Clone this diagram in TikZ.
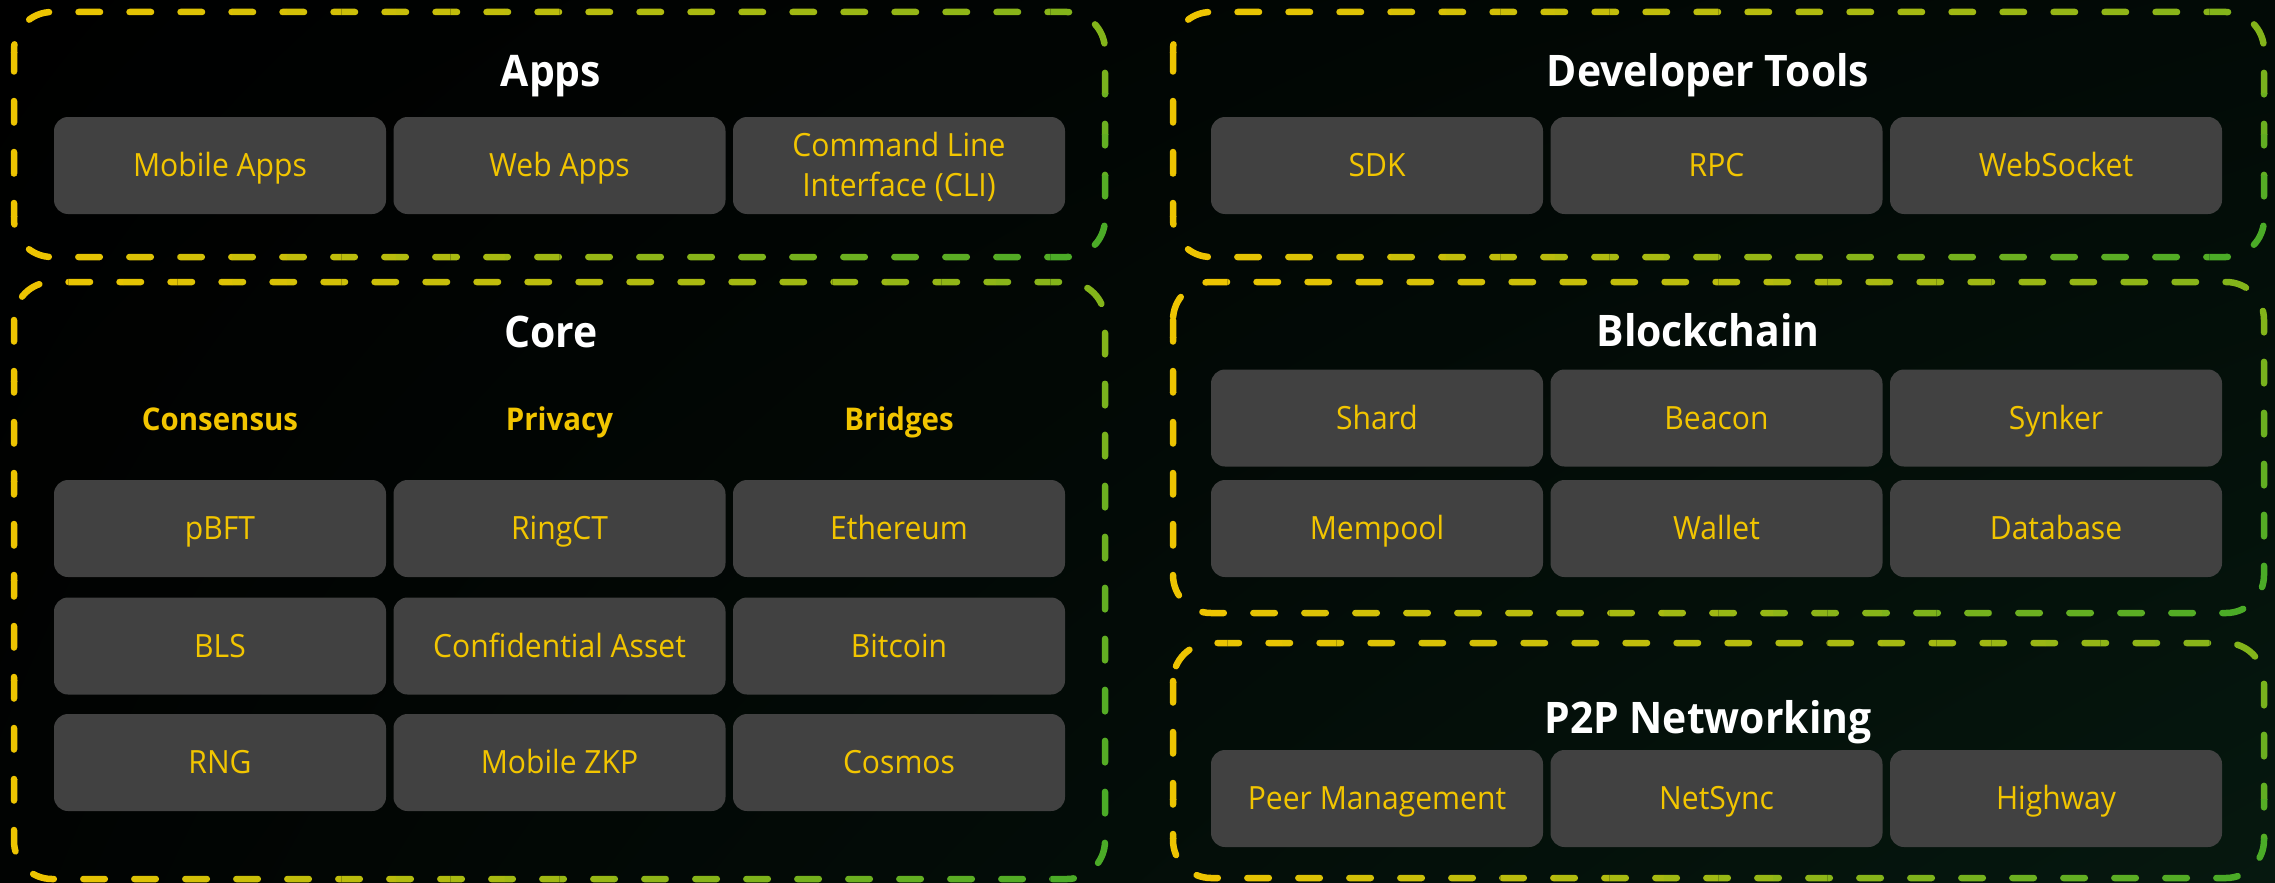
\documentclass[tikz,border=0pt]{standalone}
\usepackage{fontspec}
\setmainfont{Open Sans}[FakeStretch=0.94]
\usetikzlibrary{shadings}
\definecolor{dashY}{HTML}{F1C500}
\definecolor{dashG}{HTML}{40A92A}
\definecolor{lbltext}{HTML}{F2C500}
\definecolor{cellfill}{HTML}{414141}
\definecolor{bgTR}{HTML}{020A06}
\definecolor{bgBL}{HTML}{010302}
\definecolor{bgBR}{HTML}{06180F}

\tikzset{
  cell/.style={fill=cellfill, rounded corners=14pt, minimum width=332pt,
    minimum height=97pt, inner sep=0pt, text=lbltext,
    font=\fontsize{32}{40}\selectfont, text height=22.9pt, text depth=0pt,
    align=center},
  grouptitle/.style={text=white, font=\bfseries\fontsize{43.5}{50}\selectfont,
    text height=31pt, text depth=0pt, inner sep=0pt},
  subhead/.style={text=lbltext, font=\bfseries\fontsize{31.3}{36}\selectfont,
    text height=22.3pt, text depth=0pt, inner sep=0pt},
  frame/.style={line width=6.5pt, line cap=round,
    dash pattern=on 21.5pt off 29.5pt, rounded corners=38pt},
}

% dashed group frame whose colour runs from yellow (left) to green (right),
% greener towards the bottom; drawn cell by cell under clips
\newcommand\dashframe[4]{%
  \pgfmathsetmacro\sx{(#3-#1)/20}
  \pgfmathsetmacro\sy{(#4-#2)/6}
  \foreach \i in {0,...,19}{
    \foreach \j in {0,...,5}{
      \pgfmathsetmacro\xa{#1+\sx*\i}
      \pgfmathsetmacro\xb{#1+\sx*(\i+1)}
      \pgfmathsetmacro\ya{#2+\sy*\j}
      \pgfmathsetmacro\yb{#2+\sy*(\j+1)}
      \ifnum\i=0 \pgfmathsetmacro\xa{#1-30}\fi
      \ifnum\i=19 \pgfmathsetmacro\xb{#3+30}\fi
      \ifnum\j=0 \pgfmathsetmacro\ya{#2-30}\fi
      \ifnum\j=5 \pgfmathsetmacro\yb{#4+30}\fi
      \pgfmathtruncatemacro\mix{round(100*((\i+0.5)/20)*(0.6+0.4*(\j+0.5)/6))}
      \begin{scope}
        \clip (\xa,\ya) rectangle (\xb,\yb);
        \draw[frame, draw=dashG!\mix!dashY] (#1,#2) rectangle (#3,#4);
      \end{scope}
    }
  }
}

\begin{document}
\begin{tikzpicture}[x=1pt, y=-1pt]
\useasboundingbox (0,0) rectangle (2275,883);
\shade[upper left=black, upper right=bgTR, lower left=bgBL, lower right=bgBR]
  (0,0) rectangle (2275,883);

% group frames
\dashframe{14}{12}{1105}{257}
\dashframe{14}{282}{1105}{879}
\dashframe{1173}{12}{2264}{257}
\dashframe{1173}{282}{2264}{613}
\dashframe{1173}{643}{2264}{878}

% Apps
\node[grouptitle] (appsT) at (551,70.5) {Apps};
\node[cell] (mobile) at (220,165.5) {Mobile Apps};
\node[cell] (web) at (559.5,165.5) {Web Apps};
\node[cell, text height=62.9pt] (cli) at (899,165.5) {Command Line\\Interface (CLI)};

% Core
\node[grouptitle] (coreT) at (551,332) {Core};
\node[subhead] (consT) at (220,419.5) {Consensus};
\node[subhead] (privT) at (559.5,419.5) {Privacy};
\node[subhead] (bridT) at (899,419.5) {Bridges};
\node[cell] (pbft) at (220,528.5) {pBFT};
\node[cell] (ringct) at (559.5,528.5) {RingCT};
\node[cell] (eth) at (899,528.5) {Ethereum};
\node[cell] (bls) at (220,646) {BLS};
\node[cell] (conf) at (559.5,646) {Confidential Asset};
\node[cell] (btc) at (899,646) {Bitcoin};
\node[cell] (rng) at (220,762.5) {RNG};
\node[cell] (zkp) at (559.5,762.5) {Mobile ZKP};
\node[cell] (cosmos) at (899,762.5) {Cosmos};

% Developer Tools
\node[grouptitle] (devT) at (1708,70.5) {Developer Tools};
\node[cell] (sdk) at (1377,165.5) {SDK};
\node[cell] (rpc) at (1716.5,165.5) {RPC};
\node[cell] (ws) at (2056,165.5) {WebSocket};

% Blockchain
\node[grouptitle] (bcT) at (1708,331) {Blockchain};
\node[cell] (shard) at (1377,418) {Shard};
\node[cell] (beacon) at (1716.5,418) {Beacon};
\node[cell] (synker) at (2056,418) {Synker};
\node[cell] (mempool) at (1377,528.5) {Mempool};
\node[cell] (wallet) at (1716.5,528.5) {Wallet};
\node[cell] (db) at (2056,528.5) {Database};

% P2P Networking
\node[grouptitle] (p2pT) at (1708,718) {P2P Networking};
\node[cell] (peer) at (1377,798.5) {Peer Management};
\node[cell] (netsync) at (1716.5,798.5) {NetSync};
\node[cell] (highway) at (2056,798.5) {Highway};
\end{tikzpicture}
\end{document}
